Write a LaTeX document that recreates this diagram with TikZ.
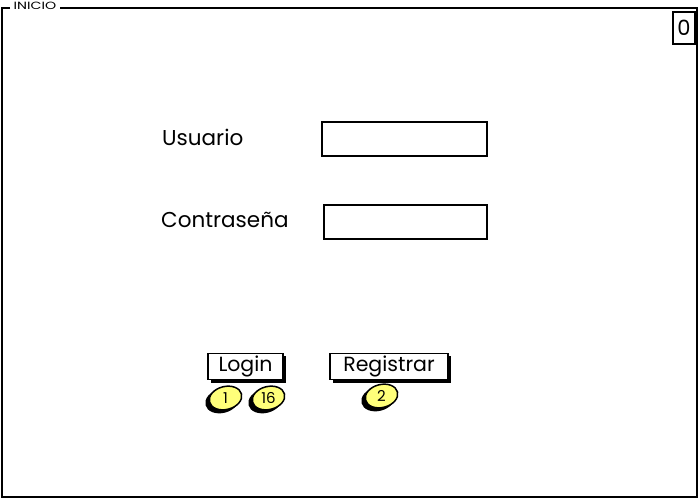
\documentclass[tikz,border=0pt]{standalone}
\usepackage{fontspec}
\setmainfont{Poppins}
\newfontfamily\widefont[FakeStretch=1.35]{Poppins}
\usetikzlibrary{shapes.geometric}
\definecolor{badge}{HTML}{FFFF7A}
\begin{document}
\begin{tikzpicture}[x=1pt,y=-1pt,
  frame/.style={draw=black,line width=2pt},
  field/.style={draw=black,line width=2pt,fill=white,minimum width=#1,minimum height=34pt,inner sep=0pt},
  lbl/.style={font=\fontsize{21.5}{24}\selectfont,anchor=west,inner sep=0pt},
  btn/.style={draw=black,line width=1.6pt,fill=white,inner sep=0pt,minimum height=26pt,font=\fontsize{20.5}{24}\selectfont},
  badgeshape/.style={ellipse,draw=black,line width=1.5pt,fill=badge,minimum width=33pt,minimum height=23pt,inner sep=0pt,rotate=14},
  badgeshadow/.style={ellipse,fill=black,minimum width=34pt,minimum height=24pt,inner sep=0pt,rotate=14},
  badgetext/.style={inner sep=0pt,font=\fontsize{15}{16}\selectfont}
]
\useasboundingbox (0,0) rectangle (700,500);
% frame
\draw[frame] (10,8) -- (2,8) -- (2,497) -- (697,497) -- (697,8) -- (60,8);
\node[font=\widefont\fontsize{10.5}{12}\selectfont,inner sep=0pt] (title) at (35,6) {INICIO};
% corner box
\node[draw=black,line width=1.6pt,fill=white,minimum width=22pt,minimum height=32pt,inner sep=0pt,font=\fontsize{21}{22}\selectfont] (zero) at (684,28) {0};
% labels and fields
\node[lbl] (usr) at (162,137) {Usuario};
\node[field=165pt] (usrf) at (404.5,139) {};
\node[lbl] (pwd) at (161,220) {Contraseña};
\node[field=163pt] (pwdf) at (405.5,222) {};
% buttons with shadow
\fill[black] (211,356) rectangle (286,383);
\node[btn,minimum width=75pt] (login) at (245.5,366.5) {Login};
\fill[black] (333,356) rectangle (451,383);
\node[btn,minimum width=118pt] (reg) at (389,366.5) {Registrar};
% badges
\node[badgeshadow] (s1) at (222,401) {};
\node[badgeshape] (b1) at (225.5,398) {};
\node[badgetext] (t1) at (b1) {1};
\node[badgeshadow] (s16) at (265,401) {};
\node[badgeshape] (b16) at (268.5,398) {};
\node[badgetext] (t16) at (b16) {16};
\node[badgeshadow] (s2) at (378,399) {};
\node[badgeshape] (b2) at (381.5,396) {};
\node[badgetext] (t2) at (b2) {2};
\end{tikzpicture}
\end{document}
